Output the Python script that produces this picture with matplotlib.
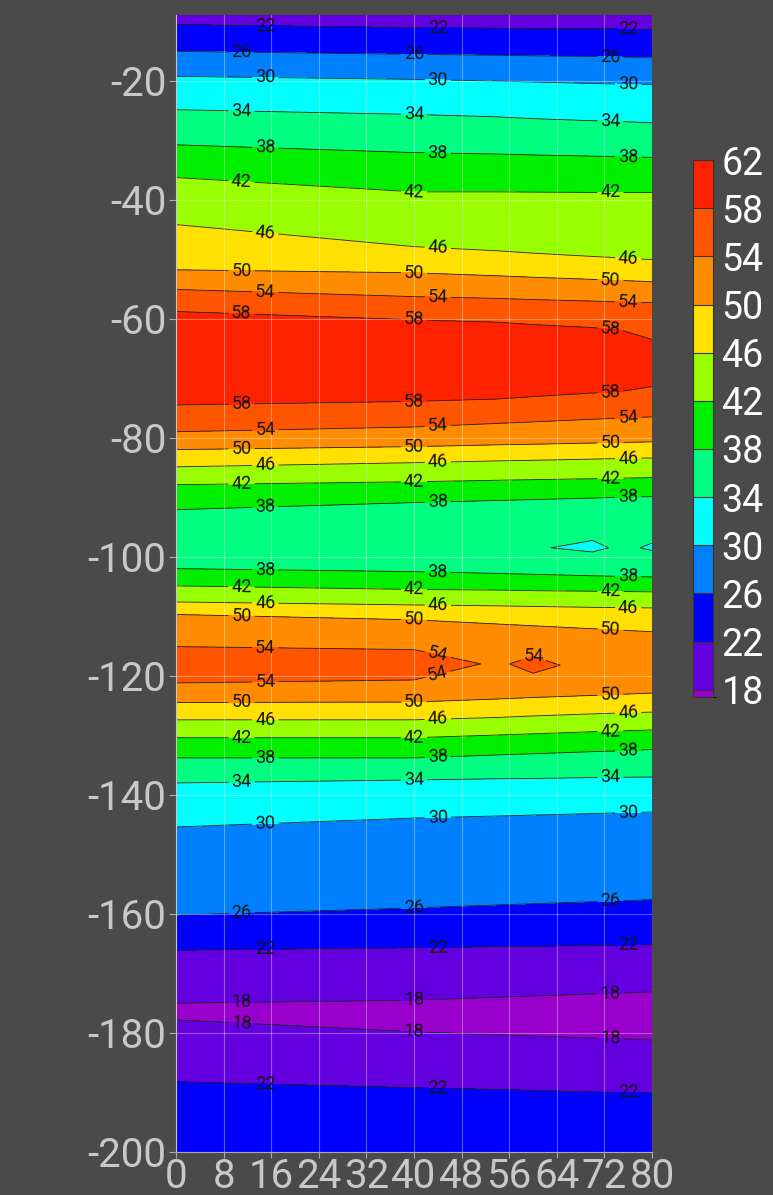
import matplotlib
matplotlib.use("Agg")
import matplotlib.pyplot as plt
import numpy as np
from matplotlib.colors import ListedColormap, BoundaryNorm

plt.rcParams['font.family'] = ['Roboto', 'DejaVu Sans']
plt.rcParams['axes.unicode_minus'] = False

# x positions of the sampled columns
x_cols = [0, 40, 54, 60, 70, 75, 80]

# depth of each profile node, one list per column (same node order in every column)
depth_x0 = [-9, -10.6, -15.1, -19.3, -24.9, -30.8, -36.3, -44.2, -51.8, -55.1, -58.8, -66.5, -74.5,
            -79.0, -82.0, -84.9, -87.9, -92.1, -97.0, -102.0, -104.9, -107.6, -109.7, -115.1, -118.0,
            -121.2, -124.5, -127.4, -130.4, -133.8, -138.0, -145.4, -160.2, -166.1, -175.0, -176.4,
            -177.8, -188.2, -200]
depth_x40 = [-9, -11.1, -15.6, -19.8, -25.7, -32.1, -38.7, -47.9, -52.3, -56.3, -60.2, -67.0, -73.9,
             -78.2, -81.5, -84.2, -87.4, -90.9, -97.0, -102.5, -105.5, -108.1, -110.6, -115.6, -118.0,
             -120.7, -124.4, -127.4, -130.4, -133.8, -137.5, -143.9, -159.0, -165.7, -174.5, -177.0,
             -179.8, -189.2, -200]
depth_x54 = [-9, -11.2, -15.75, -20.1, -26.1, -32.35, -38.7, -48.6, -52.8, -56.6, -60.6, -67.0, -73.5,
             -77.6, -81.2, -83.9, -87.15, -90.55, -97.5, -102.8, -105.6, -108.25, -111.3, -115.8, -118.0,
             -120.6, -123.9, -127.0, -129.95, -133.3, -137.3, -143.55, -158.5, -165.5, -174.0, -177.0,
             -180.3, -189.5, -200]
depth_x60 = [-9, -11.25, -15.85, -20.25, -26.4, -32.5, -38.75, -49.0, -53.05, -56.8, -61.0, -67.0, -73.1,
             -77.35, -81.1, -83.8, -87.05, -90.4, -98.5, -102.95, -105.7, -108.35, -111.6, -116.0, -118.0,
             -120.5, -123.65, -126.75, -129.75, -133.1, -137.25, -143.4, -158.3, -165.45, -173.8, -177.0,
             -180.5, -189.65, -200]
depth_x70 = [-9, -11.3, -15.95, -20.5, -26.75, -32.7, -38.8, -49.55, -53.4, -57.05, -61.5, -67.0, -72.5,
             -76.9, -80.9, -83.6, -86.9, -90.15, -98.5, -103.2, -105.8, -108.5, -112.1, -116.0, -118.5,
             -120.5, -123.3, -126.4, -129.4, -132.75, -137.1, -143.15, -157.95, -165.3, -173.45, -177.0,
             -180.85, -189.9, -200]
depth_x75 = [-9, -11.35, -16.05, -20.6, -26.9, -32.8, -38.8, -49.8, -53.6, -57.2, -62.0, -67.0, -72.2,
             -76.7, -80.8, -83.5, -86.8, -90.0, -98.5, -103.3, -105.85, -108.55, -112.35, -116.0, -118.5,
             -120.5, -123.1, -126.25, -129.25, -132.6, -137.05, -143.0, -157.8, -165.25, -173.3, -177.0,
             -181.0, -190.0, -200]
depth_x80 = [-9, -11.4, -16.1, -20.7, -27.1, -32.9, -38.8, -50.1, -53.8, -57.3, -63.5, -67.5, -71.4,
             -76.5, -80.7, -83.4, -86.7, -89.9, -98.5, -103.4, -105.9, -108.6, -112.6, -116.0, -118.5,
             -120.5, -122.9, -126.1, -129.1, -132.4, -137.0, -142.9, -157.6, -165.2, -173.1, -177.0,
             -181.2, -190.1, -200]

# measured value at each node
val_x0 = [21, 22, 26, 30, 34, 38, 42, 46, 50, 54, 58, 60.5, 58, 54, 50, 46, 42, 38, 35.6, 38, 42, 46, 50,
          54, 56.2, 54, 50, 46, 42, 38, 34, 30, 26, 22, 18, 17.75, 18, 22, 24.5]
val_x40 = [21, 22, 26, 30, 34, 38, 42, 46, 50, 54, 58, 60.5, 58, 54, 50, 46, 42, 38, 35.4, 38, 42, 46, 50,
           54, 56.0, 54, 50, 46, 42, 38, 34, 30, 26, 22, 18, 17.5, 18, 22, 24.5]
val_x54 = [21, 22, 26, 30, 34, 38, 42, 46, 50, 54, 58, 60.2, 58, 54, 50, 46, 42, 38, 35.0, 38, 42, 46, 50,
           53.0, 53.5, 53.0, 50, 46, 42, 38, 34, 30, 26, 22, 18, 17.48, 18, 22, 24.5]
val_x60 = [21, 22, 26, 30, 34, 38, 42, 46, 50, 54, 58, 60.0, 58, 54, 50, 46, 42, 38, 34.3, 38, 42, 46, 50,
           53.4, 55.0, 53.4, 50, 46, 42, 38, 34, 30, 26, 22, 18, 17.48, 18, 22, 24.5]
val_x70 = [21, 22, 26, 30, 34, 38, 42, 46, 50, 54, 58, 59.8, 58, 54, 50, 46, 42, 38, 33.3, 38, 42, 46, 50,
           52.4, 52.8, 52.4, 50, 46, 42, 38, 34, 30, 26, 22, 18, 17.46, 18, 22, 24.5]
val_x75 = [21, 22, 26, 30, 34, 38, 42, 46, 50, 54, 58, 59.5, 58, 54, 50, 46, 42, 38, 34.6, 38, 42, 46, 50,
           52.5, 53.1, 52.5, 50, 46, 42, 38, 34, 30, 26, 22, 18, 17.45, 18, 22, 24.5]
val_x80 = [21, 22, 26, 30, 34, 38, 42, 46, 50, 54, 58, 58.8, 58, 54, 50, 46, 42, 38, 33.6, 38, 42, 46, 50,
           52.6, 53.0, 52.6, 50, 46, 42, 38, 34, 30, 26, 22, 18, 17.45, 18, 22, 24.5]

levels = [17.4, 18, 22, 26, 30, 34, 38, 42, 46, 50, 54, 58, 62]
band_colors = ['#9a00cc', '#6400e0', '#0000ff', '#0080ff', '#00ffff', '#00ff80',
               '#00f000', '#99ff00', '#ffe000', '#ff8c00', '#ff5500', '#ff2200']

Y = np.column_stack([depth_x0, depth_x40, depth_x54, depth_x60, depth_x70, depth_x75, depth_x80])
Z = np.column_stack([val_x0, val_x40, val_x54, val_x60, val_x70, val_x75, val_x80])
X = np.tile(np.array(x_cols, dtype=float), (Y.shape[0], 1))

bg = '#4a4a4a'
fig = plt.figure(figsize=(7.73, 11.95), dpi=100, facecolor=bg)
ax = fig.add_axes([0.2277, 0.036, 0.6158, 0.9514])
ax.set_facecolor(bg)

cmap = ListedColormap(band_colors)
norm = BoundaryNorm(levels, cmap.N)
cf = ax.contourf(X, Y, Z, levels=levels, cmap=cmap, norm=norm)
cs = ax.contour(X, Y, Z, levels=levels[1:-1], colors='#222222', linewidths=0.6)


def label_points(cs):
    # put labels where each line crosses a few fixed x positions
    pts = []
    for k, segs in enumerate(cs.allsegs):
        targets = [11, 40, 73] if k % 2 == 0 else [15, 44, 76]
        for seg in segs:
            xs, ys = seg[:, 0], seg[:, 1]
            found = False
            for tx in targets:
                side = xs >= tx
                idx = np.where(side[:-1] != side[1:])[0]
                for i in idx:
                    t = (tx - xs[i]) / (xs[i + 1] - xs[i])
                    p = (tx, ys[i] + t * (ys[i + 1] - ys[i]))
                    found = True
                    if any(abs(p[0] - q[0]) < 2 and abs(p[1] - q[1]) < 1.2 for q in pts):
                        continue
                    pts.append(p)
            if not found and np.ptp(ys) > 2.2:
                pts.append((xs.mean(), ys.max()))
    return pts


ax.clabel(cs, manual=label_points(cs), inline=True, fontsize=13,
          fmt='%d', colors='#151515', inline_spacing=3)

ax.set_xlim(0, 80)
ax.set_ylim(-200, -9)
ax.set_xticks(range(0, 81, 8))
ax.set_yticks(range(-200, -19, 20))
ax.grid(True, color='white', alpha=0.35, linewidth=0.8)
ax.set_axisbelow(False)
ax.tick_params(colors='#aaaaaa', labelcolor='#c8c8c8', labelsize=29, length=5)
ax.tick_params(axis='x', pad=-0.5, length=4)
ax.tick_params(axis='y', pad=2)
for s in ['top', 'right']:
    ax.spines[s].set_visible(False)
for s in ['left', 'bottom']:
    ax.spines[s].set_color('#aaaaaa')

cax = fig.add_axes([0.8965, 0.4167, 0.0259, 0.4494])
cb = fig.colorbar(cf, cax=cax, ticks=range(18, 63, 4), spacing='proportional', drawedges=True)
cb.outline.set_edgecolor('#333333')
cb.dividers.set_color('#333333')
cb.dividers.set_linewidth(0.8)
cax.tick_params(colors='white', labelsize=27, length=0, pad=6)

plt.savefig('out.png', dpi=100, facecolor=bg)
